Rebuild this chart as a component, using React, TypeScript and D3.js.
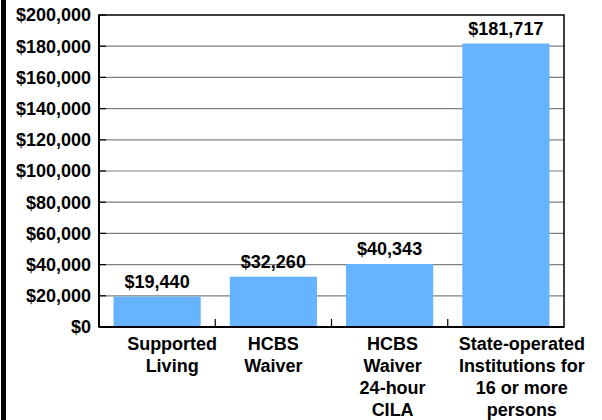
import React from "react";
import * as d3 from "d3";

const categories = [
  ["Supported", "Living"],
  ["HCBS", "Waiver"],
  ["HCBS", "Waiver", "24-hour", "CILA"],
  ["State-operated", "Institutions for", "16 or more", "persons"],
];
const values = [19440, 32260, 40343, 181717];
const valueLabels = ["$19,440", "$32,260", "$40,343", "$181,717"];
const yTicks = [0, 20000, 40000, 60000, 80000, 100000, 120000, 140000, 160000, 180000, 200000];
const labelNudge = [15, 0, 3, 16];

const W = 602;
const H = 420;
const L = 99;
const R = 564;
const T = 15;
const B = 327;
const FONT = "'Liberation Sans', Arial, sans-serif";

export default function App() {
  const x = d3
    .scaleBand<number>()
    .domain(d3.range(values.length))
    .range([L, R])
    .paddingInner(0.25)
    .paddingOuter(0.125);
  const y = d3.scaleLinear().domain([0, 200000]).range([B, T]);
  const fmt = (v: number) => "$" + d3.format(",")(v);
  const step = x.step();

  return (
    <svg
      width={W}
      height={H}
      style={{ position: "absolute", left: 0, top: 0, background: "#fff" }}
      fontFamily={FONT}
      fontWeight="bold"
    >
      <rect x={0} y={0} width={W} height={H} fill="#fff" />
      <rect x={1} y={0} width={5} height={H} fill="#000" />
      {/* gridlines */}
      {yTicks.map((t) => (
        <g key={t}>
          {t > 0 && t < 200000 && (
            <line x1={L} x2={R} y1={y(t)} y2={y(t)} stroke="#7f7f7f" strokeWidth={1.2} />
          )}
          <line x1={L} x2={L + 7} y1={y(t)} y2={y(t)} stroke="#000" strokeWidth={1.2} />
          <text x={91} y={y(t)} dy="0.36em" textAnchor="end" fontSize={18} fill="#000">
            {fmt(t)}
          </text>
        </g>
      ))}
      {/* bars */}
      {values.map((v, i) => (
        <g key={i}>
          <rect
            x={x(i)!}
            y={y(v)}
            width={x.bandwidth()}
            height={B - y(v)}
            fill="#66b3ff"
          />
          <text
            x={x(i)! + x.bandwidth() / 2}
            y={y(v) - 9}
            textAnchor="middle"
            fontSize={18}
            fill="#000"
          >
            {valueLabels[i]}
          </text>
        </g>
      ))}
      {/* x ticks between categories */}
      {d3.range(1, values.length).map((i) => (
        <line
          key={i}
          x1={L + step * i}
          x2={L + step * i}
          y1={B}
          y2={B - 8}
          stroke="#000"
          strokeWidth={1.2}
        />
      ))}
      {/* plot frame */}
      <rect x={L} y={T} width={R - L} height={B - T} fill="none" stroke="#000" strokeWidth={1.5} />
      <line x1={L} x2={R} y1={B} y2={B} stroke="#000" strokeWidth={2} />
      <line x1={L} x2={L} y1={T} y2={B} stroke="#000" strokeWidth={2} />
      {/* category labels */}
      {categories.map((lines, i) => (
        <text
          key={i}
          x={x(i)! + x.bandwidth() / 2 + labelNudge[i]}
          y={350}
          textAnchor="middle"
          fontSize={18}
          fill="#000"
        >
          {lines.map((ln, j) => (
            <tspan key={j} x={x(i)! + x.bandwidth() / 2 + labelNudge[i]} dy={j === 0 ? 0 : 22}>
              {ln}
            </tspan>
          ))}
        </text>
      ))}
    </svg>
  );
}
